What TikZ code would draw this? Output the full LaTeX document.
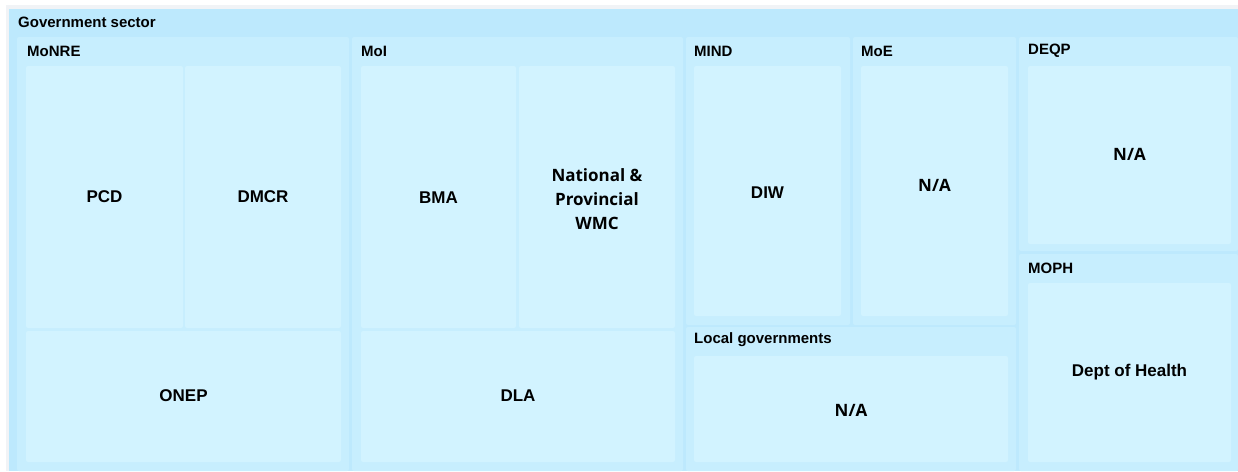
\documentclass[tikz,border=0pt]{standalone}
\usepackage{fontspec}
\setmainfont{Liberation Sans}
\newfontfamily\labelfont{Open Sans}
\usetikzlibrary{fit}
\definecolor{sectorblue}{HTML}{BDE9FD}
\definecolor{groupblue}{HTML}{C7EEFE}
\definecolor{leafblue}{HTML}{D2F3FF}
\definecolor{shadowgrey}{HTML}{F1F3F6}
\tikzset{
  box/.style={inner sep=0pt, outer sep=0pt, rounded corners=2pt},
  sectorbox/.style={box, fill=sectorblue},
  groupbox/.style={box, fill=groupblue},
  leafbox/.style={box, fill=leafblue},
  leaftext/.style={inner sep=0pt, align=center, font=\bfseries\fontsize{17}{20}\selectfont},
  softtext/.style={inner sep=0pt, align=center, font=\labelfont\bfseries\fontsize{17}{24}\selectfont},
  title/.style={anchor=west, inner sep=0pt, font=\bfseries\fontsize{15}{18}\selectfont},
}
\begin{document}
\begin{tikzpicture}[x=1pt,y=-1pt]
  \useasboundingbox (0,0) rectangle (1238,471);
  \fill[white] (0,0) rectangle (1238,471);
  % faint drop shadow above the sector panel
  \fill[shadowgrey] (6,5) rectangle (1238,471);

  % sector panel
  \node[sectorbox, fit={(9,9)(1238,471)}, rounded corners=0pt] (sector) {};
  \node[title] (sectorlabel) at (18,22) {Government sector};

  % ministries and agencies
  \node[groupbox, fit={(17,37)(349,471)}]    (monre) {};
  \node[groupbox, fit={(352,37)(683,471)}]   (moi)   {};
  \node[groupbox, fit={(686,37)(850,325)}]   (mind)  {};
  \node[groupbox, fit={(853,37)(1016,325)}]  (moe)   {};
  \node[groupbox, fit={(686,327)(1016,471)}] (local) {};
  \node[groupbox, fit={(1019,37)(1238,251)}] (deqp)  {};
  \node[groupbox, fit={(1019,254)(1238,471)}](moph)  {};

  \node[title] (monrelabel) at (27,51)    {MoNRE};
  \node[title] (moilabel)   at (361,51)   {MoI};
  \node[title] (mindlabel)  at (694,51)   {MIND};
  \node[title] (moelabel)   at (861,51)   {MoE};
  \node[title] (deqplabel)  at (1028,51)  {DEQP};
  \node[title] (localabel)  at (694,340)  {Local governments};
  \node[title] (mophlabel)  at (1028,268) {MOPH};

  % departments
  \node[leafbox, fit={(26,66)(183,328)}]     (pcd)     {};
  \node[leafbox, fit={(185,66)(341,328)}]    (dmcr)    {};
  \node[leafbox, fit={(26,331)(341,462)}]    (onep)    {};
  \node[leafbox, fit={(361,66)(516,328)}]    (bma)     {};
  \node[leafbox, fit={(519,66)(675,328)}]    (wmc)     {};
  \node[leafbox, fit={(361,331)(675,462)}]   (dla)     {};
  \node[leafbox, fit={(694,66)(841,316)}]    (diw)     {};
  \node[leafbox, fit={(861,66)(1008,316)}]   (moena)   {};
  \node[leafbox, fit={(694,356)(1008,462)}]  (localna) {};
  \node[leafbox, fit={(1028,66)(1231,244)}]  (deqpna)  {};
  \node[leafbox, fit={(1028,283)(1231,462)}] (health)  {};

  % department names
  \node[leaftext]              (pcdtext)     at (pcd.center)     {PCD};
  \node[leaftext]              (dmcrtext)    at (dmcr.center)    {DMCR};
  \node[leaftext, yshift=1pt]  (oneptext)    at (onep.center)    {ONEP};
  \node[leaftext, yshift=-1pt] (bmatext)     at (bma.center)     {BMA};
  \node[softtext, yshift=-2pt] (wmctext)     at (wmc.center)     {National \&\\Provincial\\WMC};
  \node[leaftext, yshift=1pt]  (dlatext)     at (dla.center)     {DLA};
  \node[leaftext, yshift=-2pt] (diwtext)     at (diw.center)     {DIW};
  \node[softtext, yshift=6pt]  (moenatext)   at (moena.center)   {N/A};
  \node[softtext, yshift=-1pt] (localnatext) at (localna.center) {N/A};
  \node[softtext, yshift=1pt]  (deqpnatext)  at (deqpna.center)  {N/A};
  \node[leaftext]              (healthtext)  at (health.center)  {Dept of Health};
\end{tikzpicture}
\end{document}
